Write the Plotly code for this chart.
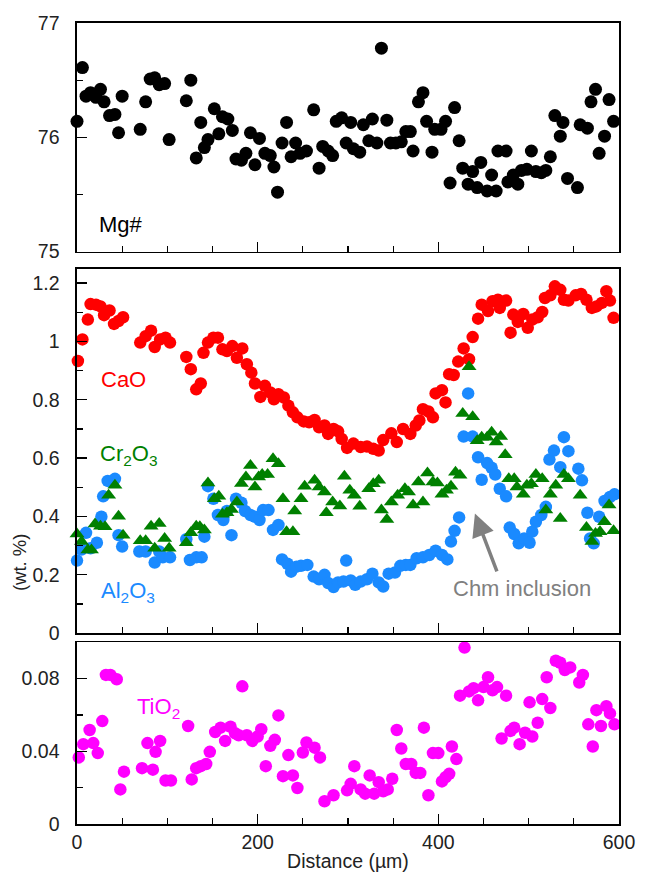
import plotly.graph_objects as go

# ---------------- data ----------------
mg_x = [0, 6, 10, 15, 21, 26, 30, 36, 42, 46, 50, 70, 76, 81, 86, 91, 97, 102, 121, 126, 132, 137, 141, 145,
        152, 157, 161, 167, 172, 176, 182, 187, 192, 197, 202, 208, 214, 218, 222, 227, 232, 237, 242, 247,
        254, 262, 268, 272, 278, 283, 287, 293, 298, 303, 306, 313, 317, 323, 327, 332, 337, 343, 347, 353,
        359, 364, 369, 372, 378, 383, 387, 393, 396, 403, 408, 413, 418, 423, 427, 433, 438, 443, 447, 454,
        459, 464, 466, 475, 477, 483, 488, 492, 498, 503, 508, 514, 519, 524, 529, 535, 538, 543, 554, 557,
        565, 569, 574, 578, 584, 589, 594]
mg_v = [76.14, 76.61, 76.36, 76.39, 76.35, 76.42, 76.31, 76.19, 76.20, 76.04, 76.36, 76.07, 76.31, 76.51,
        76.52, 76.46, 76.47, 75.98, 76.32, 76.50, 75.82, 76.13, 75.91, 75.98, 76.25, 76.03, 76.18, 76.16,
        76.06, 75.81, 75.80, 75.86, 76.04, 75.76, 75.99, 75.86, 75.84, 75.74, 75.52, 75.95, 76.13, 75.83,
        75.95, 75.86, 75.88, 76.24, 75.73, 75.92, 75.88, 75.84, 76.14, 76.17, 75.95, 76.13, 75.90, 75.87,
        76.11, 75.97, 76.16, 75.95, 76.78, 76.15, 75.95, 75.95, 75.96, 76.05, 76.05, 75.88, 76.31, 76.39,
        76.14, 75.87, 76.07, 76.07, 76.14, 75.60, 76.26, 75.97, 75.73, 75.59, 75.70, 75.56, 75.78, 75.53,
        75.67, 75.53, 75.88, 75.88, 75.61, 75.67, 75.59, 75.71, 75.72, 75.88, 75.70, 75.69, 75.71, 75.83,
        76.19, 76.01, 76.13, 75.64, 75.56, 76.11, 76.08, 76.31, 76.42, 75.86, 76.01, 76.33, 76.14]

cao_x = [1, 6, 12, 15, 21, 26, 30, 36, 41, 46, 51, 70, 76, 82, 86, 92, 98, 103, 121, 126, 132, 137, 140, 145,
         151, 156, 161, 166, 172, 177, 183, 188, 193, 197, 203, 208, 214, 218, 223, 229, 234, 239, 244, 251,
         257, 263, 268, 274, 278, 284, 289, 293, 299, 306, 314, 321, 328, 334, 339, 348, 354, 361, 369, 375,
         379, 383, 389, 394, 397, 404, 408, 412, 417, 422, 428, 434, 438, 444, 448, 455, 460, 466, 468, 475,
         480, 483, 488, 494, 499, 504, 510, 515, 518, 524, 529, 535, 539, 544, 552, 558, 564, 570, 575, 581,
         586, 590, 594]
cao_v = [0.933, 1.007, 1.075, 1.128, 1.126, 1.12, 1.09, 1.106, 1.06, 1.07, 1.083, 0.996, 1.018, 1.037, 0.981,
         1.007, 1.013, 0.996, 0.947, 0.905, 0.836, 0.856, 0.961, 0.996, 1.013, 1.013, 0.973, 0.967, 0.984,
         0.944, 0.976, 0.922, 0.893, 0.856, 0.810, 0.848, 0.825, 0.802, 0.819, 0.808, 0.78, 0.757, 0.74,
         0.726, 0.723, 0.731, 0.706, 0.712, 0.683, 0.70, 0.692, 0.666, 0.635, 0.65, 0.638, 0.64, 0.632,
         0.626, 0.662, 0.685, 0.655, 0.70, 0.683, 0.712, 0.729, 0.768, 0.76, 0.74, 0.822, 0.833, 0.791,
         0.888, 0.885, 0.931, 0.976, 0.939, 1.015, 1.078, 1.126, 1.104, 1.138, 1.143, 1.115, 1.14, 1.03,
         1.092, 1.067, 1.094, 1.047, 1.075, 1.083, 1.101, 1.149, 1.158, 1.189, 1.177, 1.143, 1.14, 1.158,
         1.163, 1.143, 1.115, 1.12, 1.132, 1.172, 1.14, 1.081]

cr_x = [0, 5, 12, 16, 20, 26, 31, 35, 42, 46, 51, 70, 76, 82, 86, 91, 97, 102, 121, 126, 132, 136, 141, 145,
        152, 157, 161, 166, 171, 177, 182, 187, 192, 197, 201, 205, 211, 217, 223, 228, 232, 239, 241, 248,
        252, 263, 268, 274, 276, 283, 291, 296, 302, 307, 313, 323, 328, 334, 337, 343, 348, 355, 363, 367,
        372, 378, 383, 388, 394, 399, 404, 409, 414, 419, 424, 427, 434, 438, 443, 448, 454, 459, 464, 469,
        474, 478, 484, 487, 494, 498, 503, 508, 515, 519, 524, 530, 535, 539, 544, 557, 564, 570, 574, 579,
        584, 589, 594]
cr_v = [0.34, 0.314, 0.285, 0.285, 0.374, 0.367, 0.365, 0.473, 0.507, 0.401, 0.336, 0.317, 0.317, 0.367,
        0.291, 0.376, 0.325, 0.291, 0.31, 0.344, 0.367, 0.365, 0.354, 0.515, 0.461, 0.469, 0.408, 0.413,
        0.424, 0.45, 0.513, 0.535, 0.575, 0.501, 0.535, 0.544, 0.544, 0.598, 0.581, 0.461, 0.348, 0.348,
        0.419, 0.461, 0.504, 0.524, 0.501, 0.484, 0.413, 0.45, 0.436, 0.538, 0.49, 0.473, 0.435, 0.495,
        0.512, 0.524, 0.422, 0.39, 0.45, 0.473, 0.495, 0.484, 0.439, 0.518, 0.45, 0.549, 0.518, 0.515,
        0.476, 0.49, 0.504, 0.552, 0.541, 0.753, 0.913, 0.742, 0.66, 0.672, 0.672, 0.689, 0.655, 0.674,
        0.612, 0.529, 0.529, 0.501, 0.476, 0.507, 0.512, 0.544, 0.529, 0.422, 0.476, 0.507, 0.393, 0.544,
        0.529, 0.473, 0.362, 0.314, 0.342, 0.348, 0.382, 0.439, 0.351]

al_x = [0, 5, 10, 15, 22, 27, 29, 34, 42, 46, 50, 69, 76, 86, 91, 95, 103, 121, 125, 132, 138, 141, 145, 151,
        156, 162, 166, 171, 176, 182, 186, 192, 197, 202, 206, 212, 217, 223, 227, 233, 237, 243, 248, 255,
        262, 268, 274, 278, 284, 289, 295, 298, 303, 308, 314, 321, 327, 334, 339, 345, 352, 358, 364, 369,
        376, 383, 390, 397, 404, 410, 414, 418, 423, 428, 433, 438, 444, 448, 454, 459, 463, 468, 475, 479,
        484, 489, 495, 501, 504, 508, 514, 519, 523, 528, 535, 539, 544, 555, 559, 565, 568, 572, 578, 584,
        590, 595]
al_v = [0.249, 0.287, 0.344, 0.291, 0.31, 0.399, 0.469, 0.522, 0.529, 0.336, 0.297, 0.28, 0.28, 0.242, 0.28,
        0.26, 0.26, 0.322, 0.251, 0.26, 0.26, 0.331, 0.504, 0.461, 0.405, 0.388, 0.419, 0.336, 0.461, 0.447,
        0.419, 0.405, 0.399, 0.388, 0.422, 0.422, 0.354, 0.371, 0.253, 0.238, 0.211, 0.228, 0.231, 0.234,
        0.194, 0.185, 0.2, 0.172, 0.158, 0.174, 0.177, 0.249, 0.181, 0.166, 0.177, 0.185, 0.204, 0.174,
        0.16, 0.204, 0.208, 0.231, 0.234, 0.234, 0.257, 0.26, 0.268, 0.283, 0.268, 0.253, 0.314, 0.351,
        0.397, 0.674, 0.822, 0.674, 0.603, 0.526, 0.583, 0.567, 0.544, 0.495, 0.469, 0.362, 0.34, 0.308,
        0.325, 0.31, 0.348, 0.382, 0.405, 0.433, 0.595, 0.626, 0.569, 0.672, 0.624, 0.564, 0.524, 0.413,
        0.325, 0.308, 0.399, 0.453, 0.467, 0.476]

ti_x = [2, 7, 14, 18, 23, 28, 32, 37, 44, 48, 52, 72, 78, 84, 87, 92, 98, 104, 123, 127, 132, 137, 143, 147,
        153, 159, 164, 170, 175, 179, 183, 188, 194, 200, 204, 209, 214, 219, 223, 228, 234, 239, 244, 250,
        254, 263, 269, 274, 284, 299, 303, 307, 314, 319, 324, 329, 334, 339, 344, 349, 354, 359, 364, 370,
        375, 380, 384, 389, 394, 400, 404, 408, 412, 415, 420, 424, 429, 434, 439, 444, 450, 455, 460, 465,
        470, 475, 480, 484, 490, 496, 501, 504, 510, 515, 520, 524, 530, 535, 540, 546, 556, 560, 566, 571,
        575, 580, 586, 590, 595]
ti_v = [0.0366, 0.0439, 0.0517, 0.0445, 0.039, 0.0566, 0.082, 0.082, 0.0796, 0.019, 0.0288, 0.0307, 0.0445,
        0.0299, 0.0397, 0.0457, 0.0239, 0.0239, 0.0539, 0.0245, 0.0307, 0.0318, 0.033, 0.0397, 0.0506,
        0.053, 0.0457, 0.0535, 0.0499, 0.0488, 0.0757, 0.0488, 0.0457, 0.0481, 0.0521, 0.0318, 0.043,
        0.0463, 0.0597, 0.0263, 0.0379, 0.0267, 0.0198, 0.0393, 0.0448, 0.042, 0.0366, 0.0125, 0.0158,
        0.0185, 0.0221, 0.0318, 0.019, 0.0167, 0.0267, 0.0167, 0.023, 0.018, 0.019, 0.0249, 0.0517, 0.0415,
        0.033, 0.033, 0.0281, 0.0281, 0.053, 0.0158, 0.039, 0.039, 0.0234, 0.0257, 0.0276, 0.0426, 0.0357,
        0.0706, 0.097, 0.0729, 0.0747, 0.068, 0.0753, 0.0807, 0.0735, 0.0753, 0.047, 0.0706, 0.0512, 0.053,
        0.0439, 0.0502, 0.0669, 0.0481, 0.0557, 0.0687, 0.0807, 0.0638, 0.0898, 0.0887, 0.0847, 0.0861,
        0.0778, 0.082, 0.0548, 0.0426, 0.0626, 0.0539, 0.0648, 0.0608, 0.0548]

x_ticks = [0, 200, 400, 600]

# ---------------- styling ----------------
FONT = "Arial, Liberation Sans, Helvetica, sans-serif"
RED, GREEN, BLUE, MAG, GREY = "#FF0000", "#008000", "#1A8AFF", "#FF00FF", "#808080"
TICK_FS = 19.5

fig = go.Figure()

def sc(x, y, color, xa, ya, symbol="circle", size=13):
    fig.add_trace(go.Scatter(x=x, y=y, mode="markers", xaxis=xa, yaxis=ya, cliponaxis=False,
                             marker=dict(color=color, size=size, symbol=symbol, line=dict(width=0)),
                             showlegend=False, hoverinfo="skip"))

# top panel (x3/y3), middle (x2/y2), bottom (x/y)
sc(mg_x, mg_v, "black", "x3", "y3")
sc(al_x, al_v, BLUE, "x2", "y2", size=12.5)
sc(cao_x, cao_v, RED, "x2", "y2", size=12.5)
sc(cr_x, cr_v, GREEN, "x2", "y2", symbol="triangle-up", size=13)
sc(ti_x, ti_v, MAG, "x", "y", size=12.5)

def xax(show_labels, anchor):
    return dict(range=[0, 600], tickvals=x_ticks, ticks="inside", ticklen=10, tickwidth=1.3,
                tickcolor="black", showline=True, linecolor="black", linewidth=1.6, mirror=True,
                showgrid=False, zeroline=False, showticklabels=show_labels, anchor=anchor,
                minor=dict(dtick=50, ticks="inside", ticklen=6, tickwidth=1.3, tickcolor="black",
                           showgrid=False),
                tickfont=dict(family=FONT, size=TICK_FS, color="#222"))

def yax(rng, dtick, minor, domain, anchor):
    return dict(range=rng, dtick=dtick, tick0=0, ticks="inside", ticklen=10, tickwidth=1.3,
                tickcolor="black", showline=True, linecolor="black", linewidth=1.6, mirror=True,
                showgrid=False, zeroline=False, domain=domain, anchor=anchor, ticklabelstandoff=12,
                minor=dict(dtick=minor, ticks="inside", ticklen=6, tickwidth=1.3, tickcolor="black",
                           showgrid=False),
                tickfont=dict(family=FONT, size=TICK_FS, color="#222"))

fig.update_layout(
    width=647, height=881,
    margin=dict(l=77, r=19, t=23, b=52),
    paper_bgcolor="white", plot_bgcolor="white",
    font=dict(family=FONT, size=TICK_FS, color="#222"),
    xaxis=dict(**xax(True, "y"), title=dict(text="Distance (µm)", standoff=2,
                                            font=dict(family=FONT, size=TICK_FS, color="#222"))),
    xaxis2=dict(**xax(False, "y2"), matches="x"),
    xaxis3=dict(**xax(False, "y3"), matches="x"),
    yaxis=yax([0, 0.1], 0.04, 0.02, [0, 0.227], "x"),
    yaxis2=yax([0, 1.25], 0.2, 0.1, [0.2382, 0.6935], "x2"),
    yaxis3=yax([75, 77], 1, 0.5, [0.7146, 1], "x3"),
)

def lab(text, x, y, color, xref, yref):
    fig.add_annotation(text=text, x=x, y=y, xref=xref, yref=yref, showarrow=False,
                       xanchor="left", yanchor="middle",
                       font=dict(family=FONT, size=22, color=color))

lab("Mg#", 22, 75.236, "black", "x3", "y3")
lab("CaO", 24, 0.869, RED, "x2", "y2")
lab("Cr<sub>2</sub>O<sub>3</sub>", 23, 0.61, GREEN, "x2", "y2")
lab("Al<sub>2</sub>O<sub>3</sub>", 24, 0.14, BLUE, "x2", "y2")
lab("TiO<sub>2</sub>", 64, 0.064, MAG, "x", "y")

# Chm inclusion arrow + label
fig.add_annotation(x=440.5, y=0.41, ax=465.5, ay=0.207, xref="x2", yref="y2", axref="x2", ayref="y2",
                   text="", showarrow=True, arrowhead=2, arrowsize=1.3, arrowwidth=3.5, arrowcolor=GREY)
fig.add_annotation(text="Chm inclusion", x=493, y=0.153, xref="x2", yref="y2", showarrow=False,
                   xanchor="center", yanchor="middle", font=dict(family=FONT, size=22, color=GREY))

# y-axis title for the middle panel
fig.add_annotation(text="(wt. %)", xref="paper", yref="paper", x=-0.107, y=0.327, textangle=-90,
                   showarrow=False, xanchor="center", yanchor="middle",
                   font=dict(family=FONT, size=18.5, color="#222"))

# remove the default 8px page margin so the figure sits at the window origin
fig.write_html("out.html", config={"displayModeBar": False, "staticPlot": True},
               post_script="document.body.style.margin='0';document.body.style.overflow='hidden';")
